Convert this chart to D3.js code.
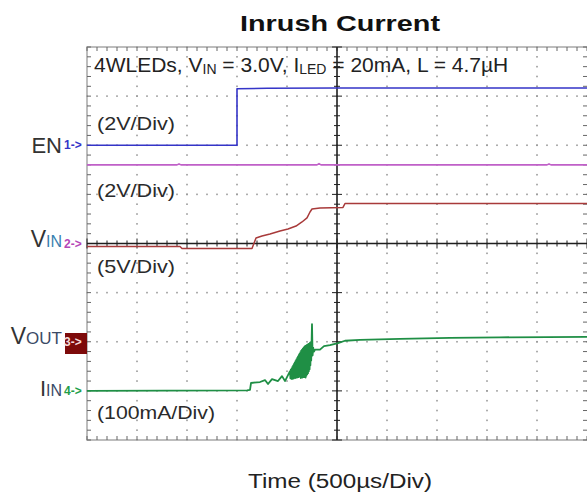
<!DOCTYPE html>
<html>
<head>
<meta charset="utf-8">
<title>Inrush Current</title>
<script src="https://cdn.jsdelivr.net/npm/d3@7"></script>
<style>
  body { margin: 0; background: #fff; }
  #chart text { font-family: "Liberation Sans", Arial, sans-serif; }
</style>
</head>
<body>
<div id="chart"></div>
<script>
"use strict"
const titulo = "Inrush Current"
const rotuloTempo = "Time (500\u00b5s/Div)"
const escalas = ["(2V/Div)", "(2V/Div)", "(5V/Div)", "(100mA/Div)"]

// EN (V)
const enTrace = [[0, 0], [1500, 0], [1500, 2.3], [1800, 2.32], [2500, 2.33], [5000, 2.33]]
// VIN (V)
const vinTrace = [[0, 3.2], [900, 3.2], [920, 3.24], [940, 3.2], [2300, 3.2], [2320, 3.25], [2340, 3.2], [4600, 3.2], [4620, 3.24], [4640, 3.2], [5000, 3.2]]
// VOUT (V)
const voutTrace = [[0, 9.69], [930, 9.69], [950, 9.49], [1650, 9.49], [1690, 10.56], [1750, 10.76],
  [1830, 10.97], [1930, 11.27], [2010, 11.48], [2090, 11.78], [2150, 12.19], [2200, 12.6],
  [2230, 13.21], [2250, 13.51], [2330, 13.62], [2560, 13.67], [2580, 14.07], [5000, 14.07]]
// IIN (mA)
const iinTrace = [[0, 0], [1600, 1], [1630, 2], [1640, 16], [1730, 18], [1780, 22], [1810, 14],
  [1850, 24], [1910, 20], [1950, 30], [1980, 20], [2010, 32],
  [2030, 40], [2034, 26], [2038, 43], [2042, 25], [2046, 46], [2050, 24], [2054, 49], [2058, 27],
  [2062, 52], [2066, 25], [2070, 55], [2074, 28], [2078, 58], [2082, 26], [2086, 61], [2090, 29],
  [2094, 64], [2098, 27], [2102, 67], [2106, 30], [2110, 70], [2114, 28], [2118, 73], [2122, 31],
  [2126, 76], [2130, 29], [2134, 79], [2138, 26], [2142, 82], [2146, 30], [2150, 84], [2154, 27],
  [2158, 86], [2162, 31], [2166, 88], [2170, 28], [2174, 90], [2178, 30], [2182, 91], [2186, 27],
  [2190, 92], [2194, 31], [2198, 93], [2202, 34], [2206, 94], [2210, 36], [2214, 95], [2218, 40],
  [2222, 96], [2226, 44], [2230, 98], [2234, 52], [2238, 99], [2242, 62], [2246, 100],
  [2250, 136], [2256, 72], [2262, 88], [2270, 80], [2280, 84],
  [2330, 84], [2370, 91], [2430, 93], [2510, 97], [2580, 102], [2730, 104], [3130, 106],
  [3630, 108], [4130, 109], [5000, 110]]

function desenha() {
  const larguraSVG = 587, alturaSVG = 498
  const svg = d3.select('#chart').append('svg')
    .attr('width', larguraSVG).attr('height', alturaSVG)
  svg.append('rect').attr('width', larguraSVG).attr('height', alturaSVG).attr('fill', '#fff')

  // tela do osciloscopio: 10 div x 8 div
  const x = d3.scaleLinear().domain([0, 5000]).range([87, 587])
  const yDiv = d3.scaleLinear().domain([-4, 4]).range([440, 47])
  const xDiv = d3.scaleLinear().domain([0, 10]).range([87, 587])

  const canais = [
    { dados: enTrace,   cor: '#3535c8', ref: 2,  porDiv: 2, w: 1.6 },
    { dados: vinTrace,  cor: '#c060c8', ref: 0,  porDiv: 2, w: 1.6 },
    { dados: voutTrace, cor: '#a83a3a', ref: -2, porDiv: 5, w: 1.5 },
    { dados: iinTrace,  cor: '#1f8f45', ref: -3, porDiv: 100, w: 1.8 }
  ]

  // grade pontilhada
  const grade = svg.append('g').attr('fill', '#9a9a9a')
  d3.range(1, 10).filter(d => d != 5).forEach(d => {
    grade.selectAll(null).data(d3.range(-4, 4.01, 0.2)).enter().append('rect')
      .attr('x', xDiv(d) - 0.8).attr('y', v => yDiv(v) - 0.8).attr('width', 1.6).attr('height', 1.6)
  })
  d3.range(-3, 4).filter(d => d != 0).forEach(d => {
    grade.selectAll(null).data(d3.range(0, 10.01, 0.2)).enter().append('rect')
      .attr('x', v => xDiv(v) - 0.8).attr('y', yDiv(d) - 0.8).attr('width', 1.6).attr('height', 1.6)
  })

  // bordas com marcas
  const borda = svg.append('g')
  borda.append('path')
    .attr('d', 'M' + xDiv(10) + ',' + yDiv(4) + 'H' + xDiv(0) + 'V' + yDiv(-4) + 'H' + xDiv(10))
    .attr('fill', 'none').attr('stroke', '#a8a8a8').attr('stroke-width', 1.5)
  const ticksX = d3.range(0, 10.01, 0.2), ticksY = d3.range(-4, 4.01, 0.2)
  const mt = borda.append('g').attr('stroke', '#666').attr('stroke-width', 1)
  mt.selectAll(null).data(ticksX).enter().append('line')
    .attr('x1', d => xDiv(d)).attr('x2', d => xDiv(d)).attr('y1', yDiv(4)).attr('y2', yDiv(4) + 4)
  mt.selectAll(null).data(ticksX).enter().append('line')
    .attr('x1', d => xDiv(d)).attr('x2', d => xDiv(d)).attr('y1', yDiv(-4)).attr('y2', yDiv(-4) - 4)
  mt.selectAll(null).data(ticksY).enter().append('line')
    .attr('y1', d => yDiv(d)).attr('y2', d => yDiv(d)).attr('x1', xDiv(0)).attr('x2', xDiv(0) + 4)
  mt.selectAll(null).data(ticksY).enter().append('line')
    .attr('y1', d => yDiv(d)).attr('y2', d => yDiv(d)).attr('x1', xDiv(10)).attr('x2', xDiv(10) - 4)

  // eixos centrais
  const eixo = svg.append('g').attr('stroke', '#1e1e1e')
  eixo.append('line').attr('x1', xDiv(0)).attr('x2', xDiv(10)).attr('y1', yDiv(0)).attr('y2', yDiv(0)).attr('stroke-width', 1.6)
  eixo.append('line').attr('x1', xDiv(5)).attr('x2', xDiv(5)).attr('y1', yDiv(4)).attr('y2', yDiv(-4)).attr('stroke-width', 1.6)
  eixo.selectAll(null).data(ticksX).enter().append('line')
    .attr('x1', d => xDiv(d)).attr('x2', d => xDiv(d))
    .attr('y1', d => yDiv(0) - (Math.abs(d - Math.round(d)) < 0.01 ? 5 : 3))
    .attr('y2', d => yDiv(0) + (Math.abs(d - Math.round(d)) < 0.01 ? 5 : 3))
  eixo.selectAll(null).data(ticksY).enter().append('line')
    .attr('y1', d => yDiv(d)).attr('y2', d => yDiv(d))
    .attr('x1', d => xDiv(5) - (Math.abs(d - Math.round(d)) < 0.01 ? 5 : 3))
    .attr('x2', d => xDiv(5) + (Math.abs(d - Math.round(d)) < 0.01 ? 5 : 3))

  // tracos
  canais.forEach(c => {
    const linha = d3.line().x(d => x(d[0])).y(d => yDiv(c.ref + d[1] / c.porDiv))
    svg.append('path').datum(c.dados).attr('d', linha)
      .attr('fill', 'none').attr('stroke', c.cor).attr('stroke-width', c.w)
      .attr('stroke-linejoin', 'round')
  })

  // textos
  svg.append('text').attr('x', 240).attr('y', 31).text(titulo)
    .attr('font-size', 22).attr('font-weight', 'bold').attr('fill', '#111')
    .attr('textLength', 200).attr('lengthAdjust', 'spacingAndGlyphs')
  svg.append('text').attr('x', 248).attr('y', 488).text(rotuloTempo)
    .attr('font-size', 20).attr('fill', '#222')
    .attr('textLength', 184).attr('lengthAdjust', 'spacingAndGlyphs')

  const anot = svg.append('text').attr('x', 94).attr('y', 72).attr('font-size', 21).attr('fill', '#222')
  anot.append('tspan').text('4WLEDs, V')
  anot.append('tspan').text('IN').attr('font-size', 14).attr('dy', 2)
  anot.append('tspan').text(' = 3.0V, I').attr('dy', -2)
  anot.append('tspan').text('LED').attr('font-size', 14).attr('dy', 2)
  anot.append('tspan').text(' = 20mA, L = 4.7\u00b5H').attr('dy', -2)

  const posEscala = [[129.5, 78], [196.5, 78], [273, 78], [419, 118]]
  escalas.forEach((e, i) => {
    svg.append('text').attr('x', 97).attr('y', posEscala[i][0]).text(e)
      .attr('font-size', 18).attr('fill', '#2a2a2a')
      .attr('textLength', posEscala[i][1]).attr('lengthAdjust', 'spacingAndGlyphs')
  })

  // rotulos dos canais a esquerda
  function rotulo(y, grande, pequeno, tamG, tamP, corP) {
    const t = svg.append('text').attr('x', 62).attr('y', y).attr('text-anchor', 'end')
      .attr('fill', '#333').attr('font-size', tamG)
    t.append('tspan').text(grande)
    if (pequeno) t.append('tspan').text(pequeno).attr('font-size', tamP).attr('fill', corP)
  }
  rotulo(153, 'EN', null, 22)
  rotulo(247, 'V', 'IN', 23, 16, '#3a7fb0')
  rotulo(344, 'V', 'OUT', 23, 17, '#3b4a66')
  rotulo(396, 'I', 'IN', 22, 16, '#3b4a66')

  svg.append('rect').attr('x', 65).attr('y', 333).attr('width', 22).attr('height', 21).attr('fill', '#7d0a0a')
  const marcas = [[145.25, '1->', '#3535c8'], [243.5, '2->', '#b548b8'], [341.75, '3->', '#f4dada'], [390.9, '4->', '#1f9f4a']]
  marcas.forEach(m => {
    svg.append('text').attr('x', 64).attr('y', m[0] + 4).text(m[1])
      .attr('font-size', 12).attr('font-weight', 'bold').attr('fill', m[2])
  })
}
desenha()
</script>
</body>
</html>
